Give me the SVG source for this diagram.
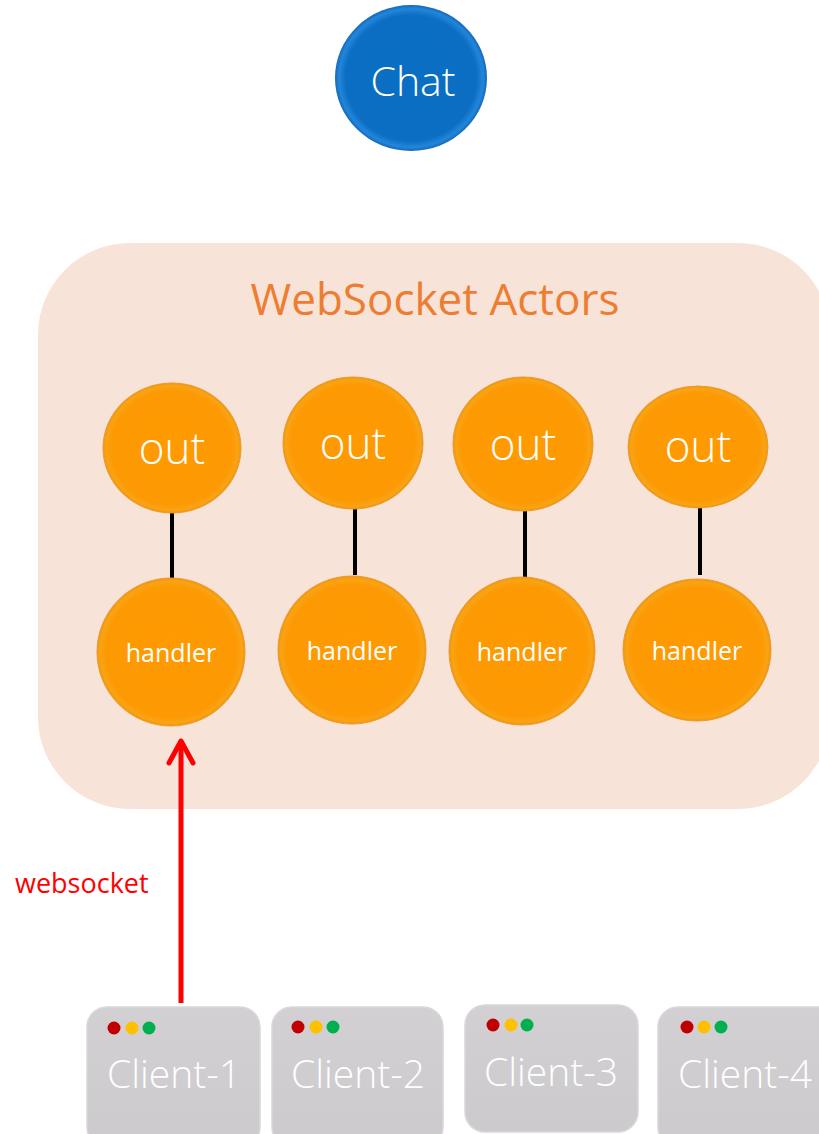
<svg xmlns="http://www.w3.org/2000/svg" width="819" height="1134" viewBox="0 0 819 1134">
<style>
.panel{fill:#F8E3D8}
.title{font-family:"Open Sans","Noto Sans",sans-serif;font-size:44px;fill:#ED7D31;text-anchor:middle}
.orb{fill:url(#orange);stroke:#EC9A30;stroke-width:1}
.out{font-family:"Open Sans","Noto Sans",sans-serif;font-size:44px;fill:#FFFFFF;text-anchor:middle;font-weight:300}
.hd{font-family:"Open Sans","Noto Sans",sans-serif;font-size:25px;fill:#FFFFFF;text-anchor:middle}
.link{stroke:#000000;stroke-width:4;fill:none}
.ws{stroke:#FF0000;stroke-width:5;fill:none}
.wslabel{font-family:"Open Sans","Liberation Sans",sans-serif;font-size:27px;fill:#FF0000}
.client{fill:url(#grey);stroke:#D9D7D9;stroke-width:1.5}
.ctext{font-family:"Open Sans","Noto Sans",sans-serif;font-size:39px;fill:#FFFFFF;text-anchor:middle;font-weight:300}
.red{fill:#C00000}.yel{fill:#FFC000}.grn{fill:#00B050}
</style>
<defs>
<radialGradient id="orange" cx="0.5" cy="0.5" r="0.5">
<stop offset="0" stop-color="#FF9A00"/>
<stop offset="0.88" stop-color="#FD9903"/>
<stop offset="0.96" stop-color="#F9A414"/>
<stop offset="1" stop-color="#F0940E"/>
</radialGradient>
<radialGradient id="blue" cx="0.5" cy="0.5" r="0.5">
<stop offset="0" stop-color="#0A6FC4"/>
<stop offset="0.86" stop-color="#0B6EC2"/>
<stop offset="0.95" stop-color="#2286DA"/>
<stop offset="1" stop-color="#1568B8"/>
</radialGradient>
<linearGradient id="grey" x1="0" y1="0" x2="0" y2="1">
<stop offset="0" stop-color="#D2D0D2"/>
<stop offset="1" stop-color="#CCCACC"/>
</linearGradient>
<marker id="chev" viewBox="-30 -16 34 32" markerWidth="34" markerHeight="32" refX="0" refY="0" orient="auto" markerUnits="userSpaceOnUse">
<path d="M-22,-12 L0,0 L-22,12" fill="none" stroke="#FF0000" stroke-width="5" stroke-linecap="round" stroke-linejoin="round"/>
</marker>
</defs>
<rect width="819" height="1134" fill="#FFFFFF"/>

<g id="chat">
<ellipse cx="411" cy="78" rx="76" ry="73" fill="url(#blue)"/>
<text x="413" y="96" font-family="'Open Sans','Noto Sans',sans-serif" font-size="41" font-weight="300" fill="#FFFFFF" text-anchor="middle">Chat</text>
</g>

<g id="websocket-actors">
<rect class="panel" x="38" y="243" width="792" height="566" rx="92" ry="92"/>
<text class="title" x="435" y="315">WebSocket Actors</text>
</g>

<g id="connectors">
<line class="link" x1="172" y1="512" x2="172" y2="579"/>
<line class="link" x1="355" y1="508" x2="355" y2="575"/>
<line class="link" x1="525" y1="511" x2="525" y2="578"/>
<line class="link" x1="700" y1="508" x2="700" y2="575"/>
<line class="ws" x1="181" y1="1003" x2="181" y2="741" marker-end="url(#chev)"/>
<text class="wslabel" x="15" y="893">websocket</text>
</g>

<g id="out-1"><ellipse class="orb" cx="172" cy="448" rx="69" ry="65"/><text class="out" x="172" y="464">out</text></g>
<g id="out-2"><ellipse class="orb" cx="353" cy="443" rx="70" ry="66"/><text class="out" x="353" y="459">out</text></g>
<g id="out-3"><ellipse class="orb" cx="523" cy="444" rx="70" ry="67"/><text class="out" x="523" y="460">out</text></g>
<g id="out-4"><ellipse class="orb" cx="698" cy="447" rx="70" ry="61"/><text class="out" x="698" y="462">out</text></g>

<g id="handler-1"><ellipse class="orb" cx="171" cy="652" rx="74" ry="74"/><text class="hd" x="171" y="662">handler</text></g>
<g id="handler-2"><ellipse class="orb" cx="352" cy="650" rx="74" ry="74"/><text class="hd" x="352" y="660">handler</text></g>
<g id="handler-3"><ellipse class="orb" cx="522" cy="651" rx="73" ry="74"/><text class="hd" x="522" y="661">handler</text></g>
<g id="handler-4"><ellipse class="orb" cx="697" cy="650" rx="74" ry="71"/><text class="hd" x="697" y="660">handler</text></g>

<g id="client-1">
<rect class="client" x="87" y="1007" width="173" height="140" rx="20"/>
<circle class="red" cx="114" cy="1028" r="6.5"/><circle class="yel" cx="132" cy="1028" r="6.5"/><circle class="grn" cx="149" cy="1028" r="6.5"/>
<text class="ctext" x="174" y="1088">Client-1</text>
</g>
<g id="client-2">
<rect class="client" x="272" y="1007" width="171" height="140" rx="20"/>
<circle class="red" cx="298" cy="1027" r="6.5"/><circle class="yel" cx="316" cy="1027" r="6.5"/><circle class="grn" cx="333" cy="1027" r="6.5"/>
<text class="ctext" x="358" y="1088">Client-2</text>
</g>
<g id="client-3">
<rect class="client" x="465" y="1005" width="173" height="127" rx="20"/>
<circle class="red" cx="493" cy="1025" r="6.5"/><circle class="yel" cx="511" cy="1025" r="6.5"/><circle class="grn" cx="527" cy="1025" r="6.5"/>
<text class="ctext" x="551" y="1086">Client-3</text>
</g>
<g id="client-4">
<rect class="client" x="658" y="1007" width="180" height="140" rx="20"/>
<circle class="red" cx="687" cy="1027" r="6.5"/><circle class="yel" cx="704" cy="1027" r="6.5"/><circle class="grn" cx="721" cy="1027" r="6.5"/>
<text class="ctext" x="745" y="1088">Client-4</text>
</g>
</svg>
